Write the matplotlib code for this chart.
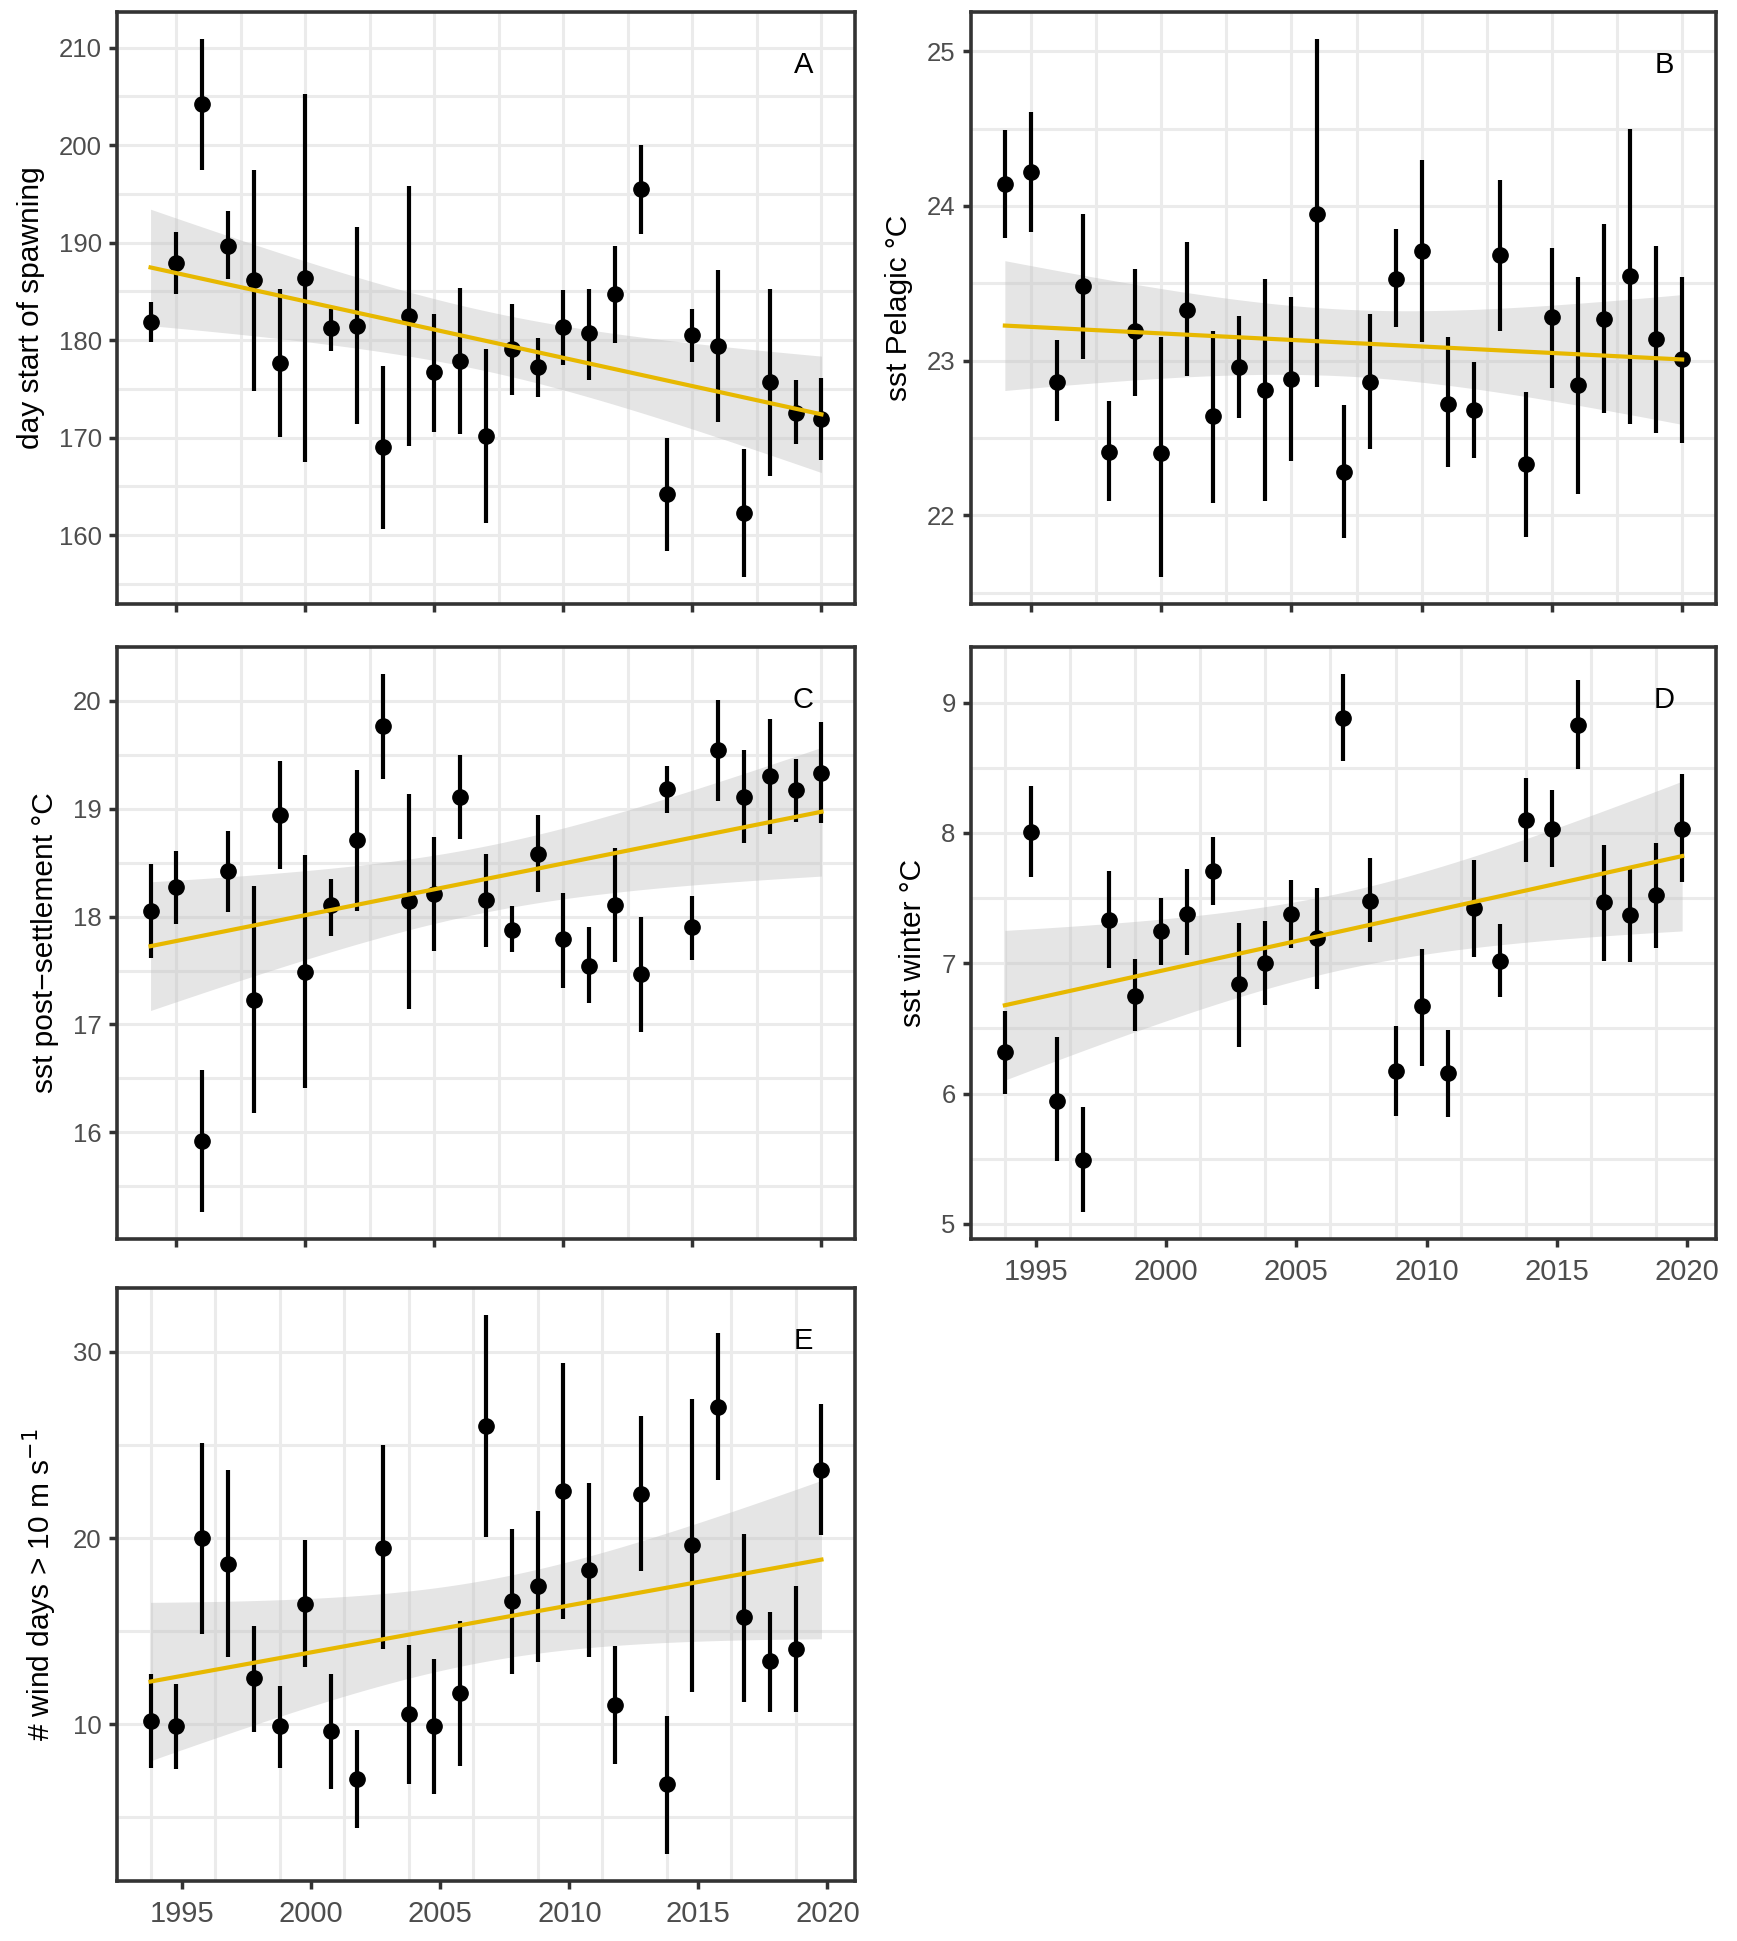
import matplotlib
matplotlib.use('Agg')
import matplotlib.pyplot as plt
import numpy as np

plt.rcParams['font.family'] = ['Liberation Sans', 'DejaVu Sans']

YEARS = np.arange(1994, 2021)

# A - day start of spawning
a_mean = [181.9, 187.9, 204.2, 189.7, 186.2, 177.7, 186.4, 181.2, 181.5, 169.0, 182.5, 176.7, 177.9, 170.2,
          179.1, 177.2, 181.3, 180.7, 184.7, 195.5, 164.2, 180.5, 179.4, 162.3, 175.7, 172.5, 171.9]
a_hi = [183.9, 191.1, 210.9, 193.3, 197.5, 185.3, 205.2, 183.2, 191.6, 177.4, 195.8, 182.7, 185.4, 179.1,
        183.7, 180.2, 185.1, 185.3, 189.7, 200.0, 170.0, 183.2, 187.2, 168.8, 185.3, 175.9, 176.1]
a_lo = [179.8, 184.7, 197.5, 186.3, 174.8, 170.1, 167.5, 178.9, 171.4, 160.6, 169.1, 170.6, 170.4, 161.2,
        174.4, 174.2, 177.5, 175.9, 179.7, 190.9, 158.4, 177.8, 171.6, 155.7, 166.1, 169.3, 167.7]

# B - sst pelagic
b_mean = [24.14, 24.22, 22.86, 23.48, 22.41, 23.19, 22.40, 23.33, 22.64, 22.96, 22.81, 22.88, 23.95, 22.28,
          22.86, 23.53, 23.71, 22.72, 22.68, 23.68, 22.33, 23.28, 22.84, 23.27, 23.55, 23.14, 23.01]
b_hi = [24.49, 24.61, 23.13, 23.95, 22.74, 23.59, 23.15, 23.77, 23.19, 23.29, 23.53, 23.41, 25.08, 22.71,
        23.30, 23.85, 24.30, 23.15, 22.99, 24.17, 22.80, 23.73, 23.54, 23.88, 24.50, 23.74, 23.54]
b_lo = [23.79, 23.83, 22.61, 23.01, 22.09, 22.77, 21.60, 22.90, 22.08, 22.63, 22.09, 22.35, 22.83, 21.85,
        22.43, 23.22, 23.12, 22.31, 22.37, 23.19, 21.86, 22.82, 22.14, 22.66, 22.59, 22.53, 22.47]

# C - sst post-settlement
c_mean = [18.05, 18.27, 15.92, 18.42, 17.23, 18.94, 17.49, 18.11, 18.71, 19.77, 18.14, 18.21, 19.11, 18.15,
          17.88, 18.58, 17.79, 17.54, 18.11, 17.47, 19.18, 17.90, 19.54, 19.11, 19.30, 19.17, 19.33]
c_hi = [18.49, 18.61, 16.58, 18.79, 18.28, 19.44, 18.57, 18.35, 19.36, 20.25, 19.14, 18.74, 19.50, 18.58,
        18.10, 18.94, 18.22, 17.90, 18.64, 18.00, 19.40, 18.19, 20.01, 19.54, 19.83, 19.46, 19.80]
c_lo = [17.62, 17.93, 15.26, 18.04, 16.18, 18.44, 16.41, 17.82, 18.05, 19.28, 17.14, 17.68, 18.72, 17.72,
        17.67, 18.23, 17.34, 17.20, 17.58, 16.93, 18.96, 17.60, 19.07, 18.68, 18.77, 18.88, 18.87]

# D - sst winter
d_mean = [6.32, 8.01, 5.94, 5.49, 7.33, 6.75, 7.25, 7.38, 7.71, 6.84, 7.00, 7.38, 7.19, 8.88,
          7.48, 6.17, 6.67, 6.16, 7.42, 7.02, 8.10, 8.03, 8.83, 7.47, 7.37, 7.52, 8.03]
d_hi = [6.63, 8.36, 6.43, 5.90, 7.71, 7.03, 7.50, 7.72, 7.97, 7.31, 7.32, 7.64, 7.58, 9.22,
        7.81, 6.52, 7.11, 6.49, 7.79, 7.30, 8.42, 8.33, 9.17, 7.91, 7.72, 7.92, 8.45]
d_lo = [6.00, 7.66, 5.48, 5.09, 6.96, 6.48, 6.99, 7.06, 7.45, 6.36, 6.68, 7.12, 6.80, 8.55,
        7.16, 5.83, 6.21, 5.82, 7.05, 6.74, 7.78, 7.74, 8.49, 7.02, 7.01, 7.12, 7.62]

# E - wind days
e_mean = [10.18, 9.89, 20.0, 18.60, 12.46, 9.89, 16.48, 9.63, 7.06, 19.49, 10.53, 9.89, 11.68, 26.02,
          16.60, 17.43, 22.53, 18.28, 11.03, 22.39, 6.78, 19.61, 27.06, 15.75, 13.38, 14.02, 23.68]
e_hi = [12.71, 12.18, 25.13, 23.63, 15.29, 12.07, 19.89, 12.71, 9.70, 24.97, 14.25, 13.49, 15.56, 31.98,
        20.46, 21.47, 29.38, 22.94, 14.21, 26.53, 10.46, 27.47, 30.99, 20.23, 16.05, 17.40, 27.22]
e_lo = [7.66, 7.59, 14.83, 13.61, 9.59, 7.66, 13.06, 6.51, 4.41, 14.02, 6.78, 6.28, 7.77, 20.07,
        12.69, 13.33, 15.63, 13.61, 7.86, 18.23, 3.03, 11.72, 23.10, 11.20, 10.67, 10.67, 20.16]

T_CRIT = 2.0595  # t quantile 0.975, df = 25
GRID = '#EBEBEB'
FRAME = '#333333'
W, H = 1737, 1941


def panel(rect, mean, lo, hi, ylabel, tag, yticks, yminor, shift=0.0, xlabels=False):
    l, r, t, b = rect
    ax = fig.add_axes([l / W, 1 - b / H, (r - l) / W, (b - t) / H])
    x = YEARS + shift
    mean = np.array(mean)

    # linear fit + confidence band
    k, c = np.polyfit(x, mean, 1)
    n = len(x)
    resid = mean - (k * x + c)
    s = np.sqrt(np.sum(resid ** 2) / (n - 2))
    xs = np.linspace(x.min(), x.max(), 100)
    se = s * np.sqrt(1 / n + (xs - x.mean()) ** 2 / np.sum((x - x.mean()) ** 2))
    fit = k * xs + c
    ax.fill_between(xs, fit - T_CRIT * se, fit + T_CRIT * se, color='#BEBEBE', alpha=0.4, lw=0, zorder=2)

    ax.vlines(x, lo, hi, color='black', lw=3.0, zorder=3)
    ax.plot(x, mean, 'o', color='black', ms=11, zorder=4)
    ax.plot(xs, fit, color='#E7B800', lw=3.0, zorder=5)

    ax.set_yticks(yticks)
    ax.set_yticks(yminor, minor=True)
    ax.set_xticks(np.arange(1995, 2021, 5))
    if shift == 0:
        ax.set_xticks(np.arange(1997.5, 2020, 5), minor=True)
        ax.grid(axis='x', which='both', color=GRID, lw=2.2, zorder=0)
    else:
        # vertical grid of these panels follows the data positions
        ax.set_xticks(np.arange(YEARS[0] + shift, 2021, 2.5), minor=True)
        ax.grid(axis='x', which='minor', color=GRID, lw=2.2, zorder=0)
    ax.grid(axis='y', which='both', color=GRID, lw=2.2, zorder=0)
    ax.set_axisbelow(True)

    ax.tick_params(which='major', length=6, width=2.5, color=FRAME, labelcolor='#4D4D4D')
    ax.tick_params(axis='y', labelsize=18.5, pad=5)
    ax.tick_params(axis='x', labelsize=21, pad=8)
    ax.tick_params(which='minor', length=0)
    if not xlabels:
        ax.tick_params(axis='x', labelbottom=False)
    for sp in ax.spines.values():
        sp.set_color(FRAME)
        sp.set_linewidth(2.6)
    ax.set_ylabel(ylabel, fontsize=21.5, labelpad=10)
    ax.text(0.93, 0.91, tag, transform=ax.transAxes, fontsize=21, ha='center', va='center')
    return ax


fig = plt.figure(figsize=(W / 100, H / 100), dpi=100)

panel((117, 855, 12, 604), a_mean, a_lo, a_hi, 'day start of spawning', 'A',
      np.arange(160, 211, 10), np.arange(155, 206, 10))
panel((971, 1716, 12, 604), b_mean, b_lo, b_hi, 'sst Pelagic \u00b0C', 'B',
      [22, 23, 24, 25], [21.5, 22.5, 23.5, 24.5])
panel((117, 855, 647, 1239), c_mean, c_lo, c_hi, 'sst post\u2212settlement \u00b0C', 'C',
      [16, 17, 18, 19, 20], [15.5, 16.5, 17.5, 18.5, 19.5])
panel((971, 1716, 647, 1239), d_mean, d_lo, d_hi, 'sst winter \u00b0C', 'D',
      [5, 6, 7, 8, 9], [5.5, 6.5, 7.5, 8.5], shift=-0.19, xlabels=True)
panel((117, 855, 1288, 1881), e_mean, e_lo, e_hi, '# wind days > 10 m s$^{-1}$', 'E',
      [10, 20, 30], [5, 15, 25], shift=-0.23, xlabels=True)

fig.savefig('out.png', dpi=100)
